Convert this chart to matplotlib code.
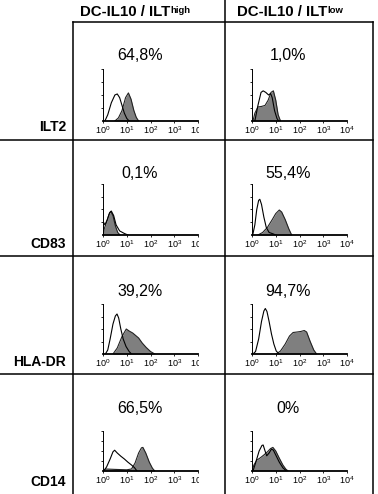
import matplotlib
matplotlib.use("Agg")
import matplotlib.pyplot as plt
import numpy as np
from matplotlib.lines import Line2D
from matplotlib.text import Annotation
from matplotlib.transforms import Bbox, TransformedBbox

plt.rcParams['font.family'] = ['Liberation Sans', 'DejaVu Sans']
plt.rcParams['mathtext.fontset'] = 'custom'
plt.rcParams['mathtext.rm'] = 'Liberation Sans'
plt.rcParams['mathtext.it'] = 'Liberation Sans:italic'
plt.rcParams['mathtext.bf'] = 'Liberation Sans:bold'

W, H = 378, 494

# column headers / row markers / percentages
col_titles = ["DC-IL10 / ILT", "DC-IL10 / ILT"]
col_sups = ["high", "low"]
markers = ["ILT2", "CD83", "HLA-DR", "CD14"]
percents = [["64,8%", "1,0%"],
            ["0,1%", "55,4%"],
            ["39,2%", "94,7%"],
            ["66,5%", "0%"]]

# histograms: log10 fluorescence and relative counts
# isotype control (open curve)
ctrl_log = [
    [[0.08, 0.2, 0.35, 0.5, 0.6, 0.7, 0.8, 0.9, 1.0, 1.1],
     [0.12, 0.25, 0.38, 0.47, 0.58, 0.7, 0.78, 0.85, 0.95, 1.05, 1.12]],
    [[0.0, 0.01, 0.08, 0.18, 0.28, 0.35, 0.45, 0.55, 0.7, 0.9, 1.05],
     [0.03, 0.12, 0.2, 0.28, 0.33, 0.4, 0.5, 0.6, 0.72, 0.9, 1.0]],
    [[0.1, 0.2, 0.3, 0.42, 0.52, 0.59, 0.66, 0.75, 0.85, 0.97, 1.1, 1.2],
     [0.04, 0.15, 0.28, 0.4, 0.5, 0.56, 0.63, 0.72, 0.82, 0.92, 1.02, 1.14]],
    [[0.03, 0.15, 0.3, 0.42, 0.49, 0.6, 0.75, 0.9, 1.05, 1.2, 1.33, 1.43],
     [0.04, 0.15, 0.3, 0.42, 0.47, 0.55, 0.62, 0.72, 0.82, 0.9, 1.0, 1.15, 1.3, 1.45]],
]
ctrl_cnt = [
    [[0, 0.12, 0.35, 0.5, 0.52, 0.45, 0.3, 0.15, 0.05, 0],
     [0, 0.3, 0.55, 0.58, 0.55, 0.5, 0.53, 0.45, 0.2, 0.05, 0]],
    [[0, 0.26, 0.2, 0.3, 0.44, 0.47, 0.38, 0.2, 0.08, 0.03, 0],
     [0, 0.2, 0.5, 0.68, 0.7, 0.6, 0.35, 0.15, 0.05, 0.02, 0]],
    [[0, 0.08, 0.3, 0.6, 0.76, 0.8, 0.72, 0.5, 0.3, 0.15, 0.05, 0],
     [0, 0.05, 0.3, 0.65, 0.86, 0.91, 0.85, 0.65, 0.4, 0.2, 0.06, 0]],
    [[0, 0.1, 0.3, 0.48, 0.52, 0.45, 0.37, 0.3, 0.22, 0.15, 0.08, 0],
     [0, 0.2, 0.5, 0.64, 0.65, 0.5, 0.38, 0.45, 0.55, 0.52, 0.4, 0.22, 0.08, 0]],
]
# marker staining (filled curve)
stain_log = [
    [[0.5, 0.65, 0.8, 0.95, 1.07, 1.18, 1.3, 1.4, 1.5],
     [0.04, 0.12, 0.25, 0.4, 0.55, 0.68, 0.8, 0.9, 1.0, 1.1, 1.2]],
    [[0.02, 0.05, 0.15, 0.25, 0.33, 0.42, 0.52, 0.62, 0.72],
     [0.25, 0.45, 0.65, 0.85, 1.0, 1.15, 1.25, 1.4, 1.55, 1.67]],
    [[0.42, 0.6, 0.8, 0.98, 1.1, 1.25, 1.4, 1.5, 1.65, 1.82, 2.0, 2.18],
     [1.02, 1.2, 1.4, 1.58, 1.73, 1.9, 2.05, 2.2, 2.3, 2.45, 2.6, 2.72]],
    [[0.02, 0.1, 0.5, 1.0, 1.2, 1.35, 1.5, 1.62, 1.68, 1.8, 1.95, 2.08, 2.18],
     [0.0, 0.08, 0.2, 0.35, 0.5, 0.65, 0.78, 0.88, 1.0, 1.15, 1.3, 1.42, 1.52]],
]
stain_cnt = [
    [[0, 0.06, 0.2, 0.45, 0.54, 0.42, 0.2, 0.07, 0],
     [0, 0.15, 0.27, 0.28, 0.3, 0.4, 0.55, 0.58, 0.4, 0.12, 0]],
    [[0, 0.12, 0.25, 0.4, 0.46, 0.38, 0.18, 0.05, 0],
     [0, 0.05, 0.15, 0.3, 0.42, 0.49, 0.45, 0.3, 0.12, 0]],
    [[0, 0.12, 0.35, 0.5, 0.46, 0.42, 0.36, 0.32, 0.22, 0.13, 0.05, 0],
     [0, 0.06, 0.2, 0.36, 0.43, 0.44, 0.45, 0.47, 0.44, 0.25, 0.08, 0]],
    [[0, 0.05, 0.04, 0.03, 0.05, 0.2, 0.45, 0.58, 0.59, 0.45, 0.22, 0.07, 0],
     [0, 0.15, 0.27, 0.33, 0.4, 0.48, 0.56, 0.59, 0.5, 0.32, 0.15, 0.05, 0]],
]

# layout in pixels (top-left origin)
row_lines = [140, 256, 374]
ax_rows = [(69, 121), (184, 235), (304, 354), (431, 471)]
ax_cols = [(103, 198), (252, 347)]
pct_y = [56, 174, 291, 408]
pct_x = [140, 288]
lab_y = [127, 244, 362, 482]
head_x = [80, 237]


def fx(x):
    return x / W


def fy(y):
    return 1 - y / H


fig = plt.figure(figsize=(W / 100, H / 100), dpi=100)

# table lines
segs = [((225, 0), (225, H)), ((73, 22), (73, H)), ((373, 22), (373, H)),
        ((73, 22), (373, 22))]
for y in row_lines:
    segs.append(((0, y), (373, y)))
for (x0, y0), (x1, y1) in segs:
    fig.add_artist(Line2D([fx(x0), fx(x1)], [fy(y0), fy(y1)], color='black',
                          lw=1.1, transform=fig.transFigure))

# headers with superscript
for i in range(2):
    t = fig.text(fx(head_x[i]), fy(12), col_titles[i], fontsize=10.8,
                 fontweight='bold', ha='left', va='center')
    fig.add_artist(Annotation(col_sups[i], xy=(1.0, 0.93), xycoords=t, fontsize=6.8,
                              fontweight='bold', ha='left', va='top'))

for r in range(4):
    fig.text(fx(66), fy(lab_y[r]), markers[r], fontsize=10, fontweight='bold',
             ha='right', va='center')
    for c in range(2):
        fig.text(fx(pct_x[c]), fy(pct_y[r]), percents[r][c], fontsize=11.5,
                 ha='center', va='center')
        top, bot = ax_rows[r]
        left, right = ax_cols[c]
        ax = fig.add_axes([fx(left), fy(bot), (right - left) / W, (bot - top) / H])
        xs = 10 ** np.array(stain_log[r][c])
        ax.fill_between(xs, stain_cnt[r][c], color='#7f7f7f', lw=0)
        ax.plot(xs, stain_cnt[r][c], color='#222222', lw=0.8)
        ax.plot(10 ** np.array(ctrl_log[r][c]), ctrl_cnt[r][c], color='black', lw=0.8)
        ax.set_xscale('log')
        ax.set_xlim(1, 1e4)
        ax.set_ylim(0, 1)
        ax.set_xticks([1, 10, 100, 1000, 10000])
        ax.set_xticklabels([r'$10^{%d}$' % k for k in range(5)])
        ax.set_yticks([0.25, 0.5, 0.75, 1.0])
        ax.set_yticklabels([])
        ax.tick_params(axis='x', labelsize=6.5, length=1.5, width=0.6, pad=1)
        ax.tick_params(axis='x', which='minor', length=1, width=0.4)
        ax.tick_params(axis='y', length=1.5, width=0.6)
        ax.tick_params(axis='y', which='minor', left=False)
        for s in ['top', 'right']:
            ax.spines[s].set_visible(False)
        ax.spines['bottom'].set_linewidth(1.3)
        ax.spines['left'].set_linewidth(0.7)
        ax.patch.set_alpha(0)
        if c == 0:
            # last decade label is cut by the column edge in the original
            lab = ax.get_xticklabels()[-1]
            lab.set_clip_on(True)
            lab.set_clip_box(TransformedBbox(Bbox([[0, 0], [199 / W, 1]]),
                                             fig.transFigure))

fig.savefig('out.png', dpi=100)
